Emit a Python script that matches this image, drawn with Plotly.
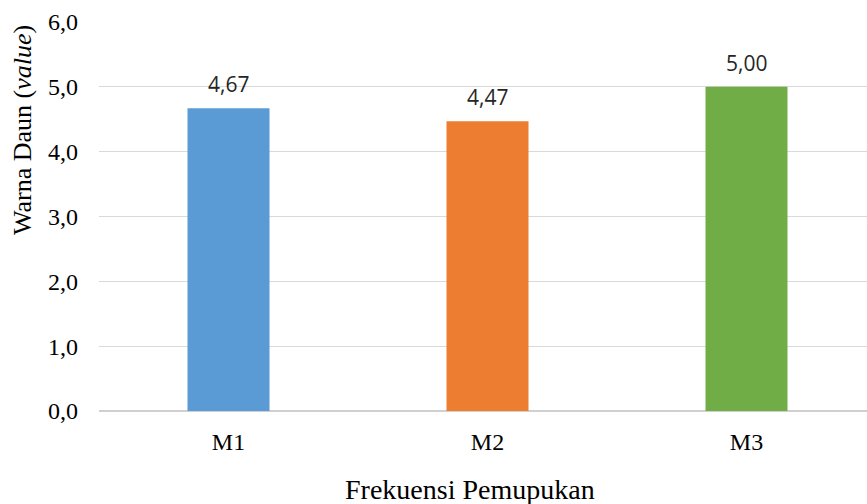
import plotly.graph_objects as go

categories = ["M1", "M2", "M3"]
values = [4.67, 4.47, 5.00]
value_labels = ["4,67", "4,47", "5,00"]
colors = ["#5B9BD5", "#ED7D31", "#70AD47"]
y_tickvals = [0, 1, 2, 3, 4, 5, 6]
y_ticktext = ["0,0", "1,0", "2,0", "3,0", "4,0", "5,0", "6,0"]

W, H = 867, 504
L, R, T, B = 99, 0, 22, 93
plot_w = W - L - R
cat_px = 259

fig = go.Figure()
fig.add_trace(go.Bar(
    x=list(range(len(categories))), y=values,
    marker=dict(color=colors, line=dict(width=0)),
    width=82 / cat_px,
    hoverinfo="skip",
))

for i, (v, lab) in enumerate(zip(values, value_labels)):
    fig.add_annotation(
        x=i, y=v, xref="x", yref="y", text=lab, showarrow=False,
        yanchor="middle", yshift=24,
        font=dict(family="Open Sans, sans-serif", size=21, color="#262626"),
    )

fig.add_annotation(
    xref="paper", yref="paper",
    x=(22 - L) / plot_w, y=(411 - 130) / (H - T - B),
    text="Warna Daun (<i>value</i>)", textangle=-90, showarrow=False,
    xanchor="center", yanchor="middle",
    font=dict(family="Liberation Serif, Times New Roman, serif", size=26, color="#000000"),
)
fig.add_annotation(
    xref="paper", yref="paper",
    x=(470 - L) / plot_w, y=-(490 - 411) / (H - T - B),
    text="Frekuensi Pemupukan", showarrow=False,
    xanchor="center", yanchor="middle",
    font=dict(family="Liberation Serif, Times New Roman, serif", size=28, color="#000000"),
)

fig.update_layout(
    width=W, height=H,
    margin=dict(l=L, r=R, t=T, b=B, pad=0),
    paper_bgcolor="white", plot_bgcolor="white",
    showlegend=False,
    xaxis=dict(
        range=[-0.5, -0.5 + plot_w / cat_px],
        tickvals=list(range(len(categories))), ticktext=categories,
        showgrid=False, zeroline=False, showline=False,
        ticks="", ticklabelstandoff=14,
        tickfont=dict(family="Liberation Serif, Times New Roman, serif", size=24, color="#000000"),
    ),
    yaxis=dict(
        range=[0, 6], tickvals=y_tickvals, ticktext=y_ticktext,
        showgrid=True, gridcolor="#D9D9D9", gridwidth=1.3,
        zeroline=True, zerolinecolor="#D0D0D0", zerolinewidth=2,
        showline=False, ticks="", ticklabelstandoff=20,
        tickfont=dict(family="Liberation Serif, Times New Roman, serif", size=24, color="#000000"),
    ),
)

fig.write_html(
    "out.html",
    config={"displayModeBar": False},
    post_script="document.body.style.margin='0';document.body.style.overflow='hidden';",
)
